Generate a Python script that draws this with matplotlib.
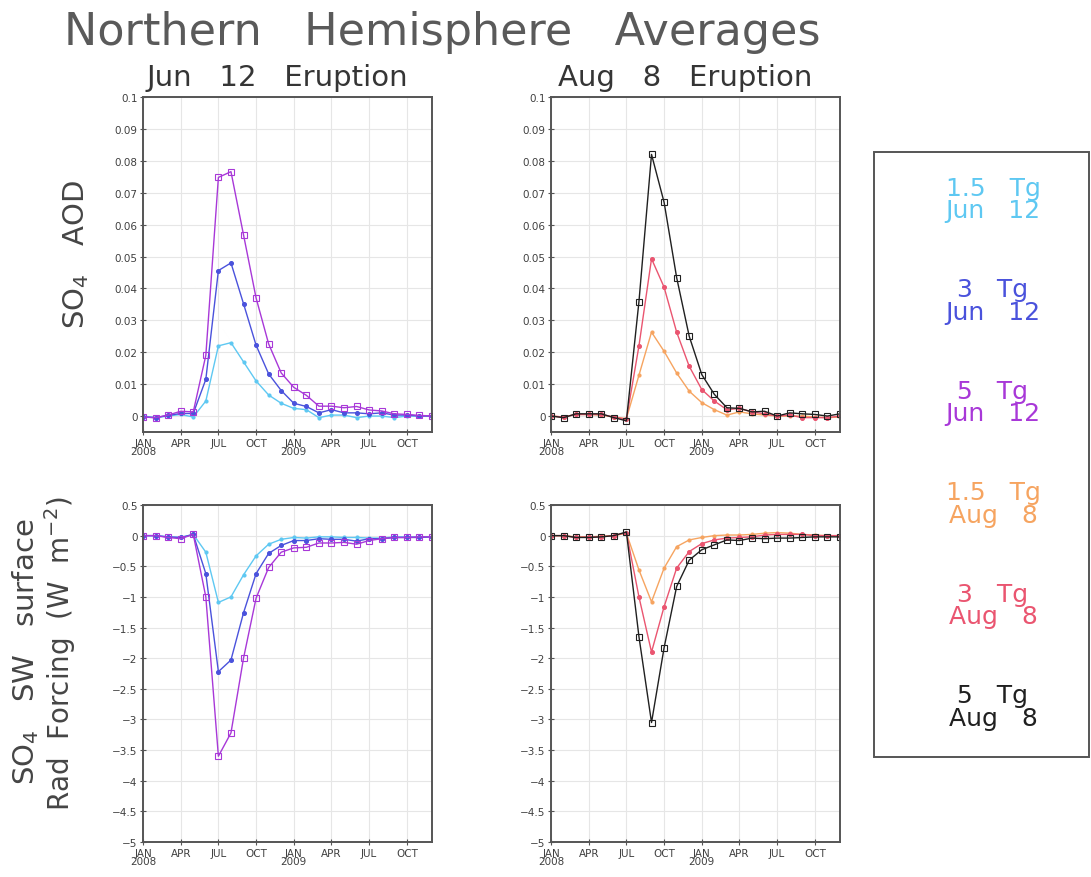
import numpy as np
import matplotlib.pyplot as plt
from matplotlib.patches import Rectangle

# month index 0 = Jan 2008 ... 23 = Dec 2009
months = list(range(24))
tick_pos = [0, 3, 6, 9, 12, 15, 18, 21]
tick_labels = ['JAN\n2008', 'APR', 'JUL', 'OCT', 'JAN\n2009', 'APR', 'JUL', 'OCT']

# SO4 AOD, Jun 12 eruption
aod_jun_15 = [0, -0.0005, 0, 0.0005, -0.0003, 0.0047, 0.022, 0.023, 0.017, 0.011, 0.0066, 0.004,
              0.0024, 0.002, -0.0005, 0.0003, 0.0003, -0.0005, 0, 0, -0.0005, 0, 0, 0]
aod_jun_3 = [-0.0003, -0.0005, 0.0002, 0.0008, 0.0008, 0.0115, 0.0456, 0.048, 0.0352, 0.0222, 0.0132, 0.008,
             0.004, 0.003, 0.001, 0.002, 0.001, 0.001, 0.0007, 0.001, 0.0003, 0.0003, 0, 0]
aod_jun_5 = [-0.0003, -0.0005, 0.0003, 0.0015, 0.0013, 0.019, 0.0748, 0.0766, 0.0568, 0.037, 0.0226, 0.0135,
             0.009, 0.0065, 0.0031, 0.0031, 0.0026, 0.003, 0.0019, 0.0016, 0.0007, 0.0005, 0.0002, 0]

# SO4 AOD, Aug 8 eruption
aod_aug_15 = [0, -0.0003, 0.0005, 0.0005, 0.0003, -0.0003, -0.0008, 0.0128, 0.0263, 0.0203, 0.0135, 0.0078,
              0.0042, 0.002, 0.0003, 0.0013, 0.0007, 0.0003, 0, 0, 0, -0.0003, -0.0005, -0.0003]
aod_aug_3 = [0, -0.0003, 0.0005, 0.0005, 0.0005, -0.0003, -0.001, 0.022, 0.0493, 0.0404, 0.0263, 0.0156,
             0.0083, 0.0047, 0.002, 0.0024, 0.0013, 0.0007, 0, 0.0003, -0.0005, -0.0005, -0.0005, 0]
aod_aug_5 = [0, -0.0005, 0.0007, 0.0007, 0.0007, -0.0005, -0.0015, 0.0359, 0.082, 0.067, 0.0434, 0.025,
             0.013, 0.0068, 0.0026, 0.0024, 0.0013, 0.0015, 0, 0.001, 0.0007, 0.0005, 0, 0.0007]

# SW surface radiative forcing (W m-2), Jun 12 eruption
rf_jun_15 = [0, 0, -0.02, -0.03, 0.02, -0.27, -1.09, -1.0, -0.64, -0.33, -0.14, -0.06,
             -0.03, -0.04, -0.02, -0.02, -0.03, -0.03, -0.04, -0.04, -0.02, -0.02, -0.02, -0.02]
rf_jun_3 = [0, 0, -0.02, -0.03, 0.02, -0.62, -2.22, -2.03, -1.26, -0.62, -0.29, -0.16,
            -0.08, -0.08, -0.05, -0.06, -0.06, -0.09, -0.05, -0.05, -0.03, -0.03, -0.03, -0.02]
rf_jun_5 = [0, 0, -0.03, -0.05, 0.02, -1.0, -3.6, -3.22, -2.0, -1.02, -0.52, -0.27,
            -0.2, -0.19, -0.12, -0.12, -0.11, -0.14, -0.08, -0.05, -0.03, -0.03, -0.02, -0.02]

# SW surface radiative forcing (W m-2), Aug 8 eruption
rf_aug_15 = [0, 0, -0.02, -0.02, -0.01, 0, 0.04, -0.56, -1.08, -0.53, -0.18, -0.07,
             -0.03, 0, 0.01, 0.01, 0.02, 0.04, 0.05, 0.04, 0.02, 0.01, 0, 0]
rf_aug_3 = [0, 0, -0.03, -0.02, -0.02, 0, 0.05, -1.0, -1.9, -1.16, -0.53, -0.26,
            -0.13, -0.07, -0.04, -0.03, -0.02, 0.01, 0.02, 0.02, 0.02, 0, 0, 0]
rf_aug_5 = [0, 0, -0.03, -0.03, -0.02, 0, 0.06, -1.65, -3.05, -1.83, -0.83, -0.4,
            -0.23, -0.15, -0.07, -0.08, -0.04, -0.05, -0.04, -0.04, -0.03, -0.02, -0.02, -0.02]

legend_labels = ['1.5   Tg\nJun   12', '3   Tg\nJun   12', '5   Tg\nJun   12',
                 '1.5   Tg\nAug   8', '3   Tg\nAug   8', '5   Tg\nAug   8']

COLORS = {
    'jun15': '#5ec8f2',
    'jun3': '#4a52dc',
    'jun5': '#a838d8',
    'aug15': '#f6a460',
    'aug3': '#ea5570',
    'aug5': '#202020',
}
STYLE = {
    '15': dict(marker='o', markersize=2.2, linewidth=1.0),
    '3': dict(marker='o', markersize=2.8, linewidth=1.0),
    '5': dict(marker='s', markersize=3.8, linewidth=1.0, markerfacecolor='none'),
}
TEXT = '#404040'


def draw_panel(ax, series, ylim, yticks, ylabels):
    for vals, key, size in series:
        ax.plot(months, vals, color=COLORS[key], markeredgewidth=0.8, **STYLE[size])
    ax.set_xlim(0, 23)
    ax.set_ylim(*ylim)
    ax.set_yticks(yticks)
    ax.set_yticklabels(ylabels)
    ax.set_xticks(tick_pos)
    ax.set_xticklabels(tick_labels, linespacing=0.85)
    ax.set_xticks(months, minor=True)
    ax.grid(True, color='#e6e6e6', linewidth=0.8)
    ax.tick_params(axis='both', which='major', labelsize=7.5, colors='#555555', labelcolor=TEXT,
                   direction='inout', length=4, pad=2)
    ax.tick_params(axis='x', which='minor', length=0)
    for s in ax.spines.values():
        s.set_color('#555555')
        s.set_linewidth(1.4)


fig = plt.figure(figsize=(10.91, 8.78), dpi=100)

W, H = 1091, 878
def box(l, t, r, b):
    return [l / W, 1 - b / H, (r - l) / W, (b - t) / H]

aod_ticks = [0, 0.01, 0.02, 0.03, 0.04, 0.05, 0.06, 0.07, 0.08, 0.09, 0.1]
aod_lbls = ['0', '0.01', '0.02', '0.03', '0.04', '0.05', '0.06', '0.07', '0.08', '0.09', '0.1']
rf_ticks = [0.5, 0, -0.5, -1, -1.5, -2, -2.5, -3, -3.5, -4, -4.5, -5]
rf_lbls = ['0.5', '0', '\u22120.5', '\u22121', '\u22121.5', '\u22122', '\u22122.5', '\u22123',
           '\u22123.5', '\u22124', '\u22124.5', '\u22125']

ax1 = fig.add_axes(box(143, 98, 432, 433))
draw_panel(ax1, [(aod_jun_15, 'jun15', '15'), (aod_jun_3, 'jun3', '3'), (aod_jun_5, 'jun5', '5')],
           (-0.005, 0.1), aod_ticks, aod_lbls)
ax2 = fig.add_axes(box(551, 98, 840, 433))
draw_panel(ax2, [(aod_aug_15, 'aug15', '15'), (aod_aug_3, 'aug3', '3'), (aod_aug_5, 'aug5', '5')],
           (-0.005, 0.1), aod_ticks, aod_lbls)
ax3 = fig.add_axes(box(143, 506, 432, 843))
draw_panel(ax3, [(rf_jun_15, 'jun15', '15'), (rf_jun_3, 'jun3', '3'), (rf_jun_5, 'jun5', '5')],
           (-5, 0.5), rf_ticks, rf_lbls)
ax4 = fig.add_axes(box(551, 506, 840, 843))
draw_panel(ax4, [(rf_aug_15, 'aug15', '15'), (rf_aug_3, 'aug3', '3'), (rf_aug_5, 'aug5', '5')],
           (-5, 0.5), rf_ticks, rf_lbls)

# titles
fig.text(442 / W, 1 - 32 / H, 'Northern   Hemisphere   Averages', ha='center', va='center',
         fontsize=32, color='#5a5a5a')
fig.text(277 / W, 1 - 78 / H, 'Jun   12   Eruption', ha='center', va='center', fontsize=21,
         color='#353535')
fig.text(685 / W, 1 - 78 / H, 'Aug   8   Eruption', ha='center', va='center', fontsize=21,
         color='#353535')

# y axis labels
fig.text(76 / W, 1 - 255 / H, r'SO$_4$   AOD', rotation=90, ha='center', va='center',
         fontsize=21, color='#454545')
fig.text(26 / W, 1 - 652 / H, r'SO$_4$   SW   surface', rotation=90, ha='center', va='center',
         fontsize=21, color='#454545')
fig.text(60 / W, 1 - 654 / H, r'Rad  Forcing  (W  m$^{-2}$)', rotation=90, ha='center', va='center',
         fontsize=20, color='#454545')

# legend box
lx0, ly0, lx1, ly1 = 874, 153, 1089, 758
fig.add_artist(Rectangle((lx0 / W, 1 - ly1 / H), (lx1 - lx0) / W, (ly1 - ly0) / H,
                         transform=fig.transFigure, facecolor='none', edgecolor='#555555', linewidth=1.4))
leg_colors = [COLORS[k] for k in ['jun15', 'jun3', 'jun5', 'aug15', 'aug3', 'aug5']]
for i, (lab, c) in enumerate(zip(legend_labels, leg_colors)):
    yc = 200 + i * 101.5
    fig.text(993 / W, 1 - yc / H, lab, ha='center', va='center', fontsize=18, color=c,
             linespacing=0.9)

fig.savefig('out.png', dpi=100)
